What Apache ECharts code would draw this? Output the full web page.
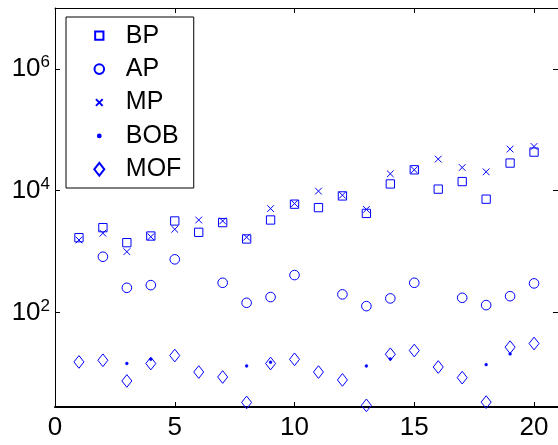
<!DOCTYPE html>
<html>
<head>
<meta charset="utf-8">
<script src="https://cdn.jsdelivr.net/npm/echarts@6/dist/echarts.min.js"></script>
<style>html,body{margin:0;padding:0;background:#fff;}#c{width:558px;height:445px;}</style>
</head>
<body>
<div id="c"></div>
<script>
// ---- data ----
const xValues = [1,2,3,4,5,6,7,8,9,10,11,12,13,14,15,16,17,18,19,20];
const bp  = [1690,2470,1400,1800,3180,2070,2990,1610,3300,6000,5270,8200,4230,12900,22000,10600,14100,7250,28400,43000];
const ap  = [null,822,254,281,745,null,307,144,179,411,null,198,127,170,307,null,174,132,185,300];
const mp  = [1550,2000,995,1750,2320,3300,3180,1720,5070,6140,9820,8430,4920,18900,22000,33000,24000,20400,48200,53200];
const bob = [null,null,14.5,17.0,null,null,null,13.2,15.2,null,null,null,13.2,17.2,null,null,null,13.9,20.8,null];
const mof = [15.4,16.4,7.5,14.5,19.6,10.5,8.7,3.33,14.5,17.0,10.5,7.8,2.98,20.6,23.7,12.7,8.5,3.37,26.9,30.9];
const seriesNames = ['BP','AP','MP','BOB','MOF'];
const xTickValues = [0,5,10,15,20];
const yTickValues = [1e2,1e4,1e6];

// ---- markers (all share a 0..14 box) ----
const PAD = 'M0,0M14,14';
const SYM = {
  BP:  'path://' + PAD + 'M2.85,2.85L11.15,2.85L11.15,11.15L2.85,11.15Z',
  AP:  'path://' + PAD + 'M11.8,7A4.8,4.8,0,1,1,2.2,7A4.8,4.8,0,1,1,11.8,7Z',
  MP:  'path://' + PAD + 'M3.65,3.65L10.35,10.35M10.35,3.65L3.65,10.35',
  BOB: 'path://' + PAD + 'M8.4,7A1.4,1.4,0,1,1,5.6,7A1.4,1.4,0,1,1,8.4,7Z',
  MOF: 'path://' + PAD + 'M7,0.65L12,7L7,13.35L2,7Z'
};
const BLUE = '#0000ff';
const FONT = 'Liberation Sans, Arial, Helvetica, sans-serif';

function pairs(vals){ return xValues.map((x,i)=> vals[i]==null ? [x,'-'] : [x, vals[i]]); }
const valueMap = {BP: bp, AP: ap, MP: mp, BOB: bob, MOF: mof};

const series = seriesNames.map(name => ({
  name: name,
  type: 'scatter',
  symbol: SYM[name],
  symbolSize: 14,
  data: pairs(valueMap[name]),
  itemStyle: name === 'BOB'
    ? {color: BLUE, borderColor: BLUE, borderWidth: 0.5, opacity: 1}
    : {color: 'rgba(0,0,0,0)', borderColor: BLUE, borderWidth: 1, opacity: 1},
  emphasis: {disabled: true},
  animation: false
}));

const chart = echarts.init(document.getElementById('c'), null, {renderer: 'canvas'});
const axisLineStyle = {color: '#000', width: 1};
chart.setOption({
  backgroundColor: '#fff',
  animation: false,
  grid: {left: 55, top: 8, width: 505, bottom: 38, containLabel: false},
  legend: {
    orient: 'vertical',
    left: 66, top: 17,
    data: seriesNames,
    itemWidth: 43, itemHeight: 14, itemGap: 8.4,
    padding: [6.2, 12.4, 6.2, 25.3],
    borderColor: '#000', borderWidth: 1, borderRadius: 0,
    backgroundColor: '#fff',
    selectedMode: false,
    textStyle: {fontSize: 25, lineHeight: 25, fontFamily: FONT, color: '#000'}
  },
  xAxis: [{
    type: 'value', min: 0, max: 21, interval: 5, position: 'bottom',
    axisLine: {show: true, onZero: false, lineStyle: {color: '#000', width: 2}},
    axisTick: {show: true, inside: true, length: 5, lineStyle: {color: '#000'}, customValues: xTickValues},
    axisLabel: {show: true, fontSize: 26, fontFamily: FONT, color: '#000', margin: 8, customValues: xTickValues,
      formatter: v => String(v)},
    splitLine: {show: false}
  },{
    type: 'value', min: 0, max: 21, interval: 5, position: 'top',
    axisLine: {show: true, onZero: false, lineStyle: axisLineStyle},
    axisTick: {show: true, inside: true, length: 5, lineStyle: {color: '#000'}, customValues: xTickValues},
    axisLabel: {show: false},
    splitLine: {show: false}
  }],
  yAxis: [{
    type: 'log', logBase: 10, min: 2.8, max: 1e7, position: 'left',
    axisLine: {show: true, onZero: false, lineStyle: axisLineStyle},
    axisTick: {show: true, inside: true, length: 5, lineStyle: {color: '#000'}, customValues: yTickValues},
    axisLabel: {show: true, margin: 5, customValues: yTickValues,
      formatter: v => '{b|10}{s|' + Math.round(Math.log10(v)) + '}',
      rich: {
        b: {fontSize: 26, fontFamily: FONT, color: '#000', lineHeight: 30},
        s: {fontSize: 17, fontFamily: FONT, color: '#000', lineHeight: 17, verticalAlign: 'top'}
      }
    },
    splitLine: {show: false}
  },{
    type: 'log', logBase: 10, min: 2.8, max: 1e7, position: 'right',
    axisLine: {show: true, onZero: false, lineStyle: axisLineStyle},
    axisTick: {show: true, inside: true, length: 5, lineStyle: {color: '#000'}, customValues: yTickValues},
    axisLabel: {show: false},
    splitLine: {show: false}
  }],
  series: series
});
</script>
</body>
</html>
